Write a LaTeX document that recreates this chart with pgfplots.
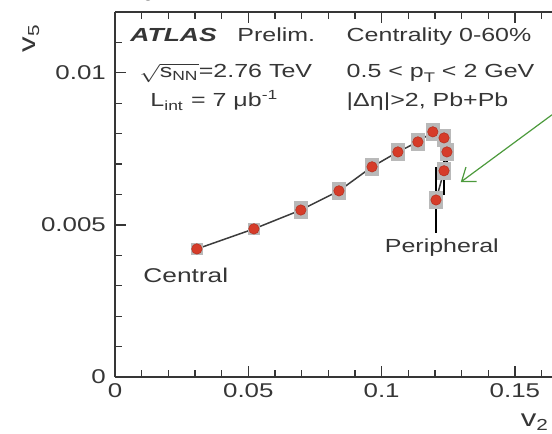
\documentclass[border=0pt]{standalone}
\usepackage{fontspec}
\setmainfont{Liberation Sans}
\usepackage{pgfplots}
\usepackage{pgfplotstable}
\pgfplotsset{compat=1.18}
\usetikzlibrary{arrows.meta}

\definecolor{txt}{HTML}{363636}
\definecolor{linegray}{HTML}{3C3C3C}
\definecolor{atlasred}{HTML}{D63C29}
\definecolor{sysgray}{HTML}{B9B9B9}
\definecolor{arrowgreen}{HTML}{4C9A3C}

\tikzset{lbl/.style={font=\fontsize{9.5}{11}\selectfont, text=txt, xscale=1.32, inner sep=0pt}}

% v2, v5, stat. error on v5
\pgfplotstableread{
x      y       ey
0.0307 0.00421 0.00005
0.0521 0.00487 0.00008
0.0697 0.00549 0.00010
0.0840 0.00612 0.00010
0.0964 0.00691 0.00015
0.1061 0.00740 0.00015
0.1136 0.00773 0.00020
0.1192 0.00806 0.00030
0.1234 0.00786 0.00030
0.1245 0.00740 0.00040
0.1234 0.00678 0.00080
0.1204 0.00582 0.00110
}\vfive

\begin{document}
\begin{tikzpicture}
\useasboundingbox (-57.5bp,-28.5bp) rectangle (218.5bp,188.5bp);
\begin{axis}[
  scale only axis, width=218.5bp, height=182.5bp,
  xmin=0, xmax=0.1639, ymin=0, ymax=0.012,
  separate axis lines,
  axis x line*=box, axis y line*=left,
  axis line style={-, line width=0.65bp, draw=txt},
  xtick={0,0.05,0.1,0.15}, xticklabels={0,0.05,0.1,0.15},
  ytick={0,0.005,0.01}, yticklabels={0,0.005,0.01},
  minor xtick={0.01,0.02,0.03,0.04,0.06,0.07,0.08,0.09,0.11,0.12,0.13,0.14,0.16},
  minor ytick={0.001,0.002,0.003,0.004,0.006,0.007,0.008,0.009,0.011},
  major tick length=5.5bp, minor tick length=3.5bp,
  tick style={line width=0.6bp, color=txt},
  every tick label/.append style={font=\fontsize{10}{12}\selectfont, text=txt, xscale=1.3},
  clip=false,
]
% systematic boxes
\addplot[only marks, mark=square*, mark size=2.9bp, color=sysgray,
  mark options={draw=none}, skip coords between index={2}{12}]
  table[x=x, y=y]{\vfive};
\addplot[only marks, mark=square*, mark size=3.3bp, color=sysgray,
  mark options={draw=none, yscale=1.3}, skip coords between index={0}{2}]
  table[x=x, y=y]{\vfive};
% connecting line
\addplot[line width=0.75bp, color=linegray, mark=none] table[x=x, y=y]{\vfive};
% points
\addplot[only marks, mark=*, mark size=2.6bp,
  mark options={fill=atlasred, draw=atlasred!85!black, line width=0.3bp}]
  table[x=x, y=y]{\vfive};
% stat. errors
\addplot[draw=none, mark=none,
  error bars/.cd, y dir=both, y explicit, error mark=none,
  error bar style={draw=black, line width=0.8bp}]
  table[x=x, y=y, y error=ey]{\vfive};

\node[text=txt, font=\fontsize{12}{14}\selectfont, rotate=90, xscale=1.3]
  at (axis description cs:-0.192,0.929) {v\textsubscript{5}};
\node[text=txt, font=\fontsize{12}{14}\selectfont, xscale=1.3]
  at (axis description cs:0.961,-0.123) {v\textsubscript{2}};

\node[lbl, anchor=base west, font=\fontsize{9.5}{11}\selectfont\bfseries\itshape, xscale=1.06]
  at (axis description cs:0.034,0.918) {ATLAS};
\node[lbl, anchor=base west] at (axis description cs:0.279,0.918) {Prelim.};
\node[lbl, anchor=base west] at (axis description cs:0.055,0.82)
  {$\sqrt{\hbox{s\textsubscript{NN}}}$=2.76 TeV};
\node[lbl, anchor=base west] at (axis description cs:0.08,0.74)
  {L\textsubscript{int} = 7 μb\textsuperscript{-1}};
\node[lbl, anchor=base west] at (axis description cs:0.529,0.918) {Centrality 0-60\%};
\node[lbl, anchor=base west] at (axis description cs:0.529,0.82)
  {0.5 < p\raisebox{-0.45ex}{\scriptsize T} < 2 GeV};
\node[lbl, anchor=base west] at (axis description cs:0.529,0.74) {|Δη|>2, Pb+Pb};
\node[lbl, anchor=base, font=\fontsize{10}{12}\selectfont] at (axis description cs:0.162,0.26) {Central};
\node[lbl, anchor=base] at (axis description cs:0.748,0.34) {Peripheral};

\draw[arrowgreen, line width=0.6bp, -{Straight Barb[length=6bp, width=9bp]}]
  (axis cs:0.1639,0.00862) -- (axis cs:0.1297,0.00641);
\end{axis}
\end{tikzpicture}
\end{document}
